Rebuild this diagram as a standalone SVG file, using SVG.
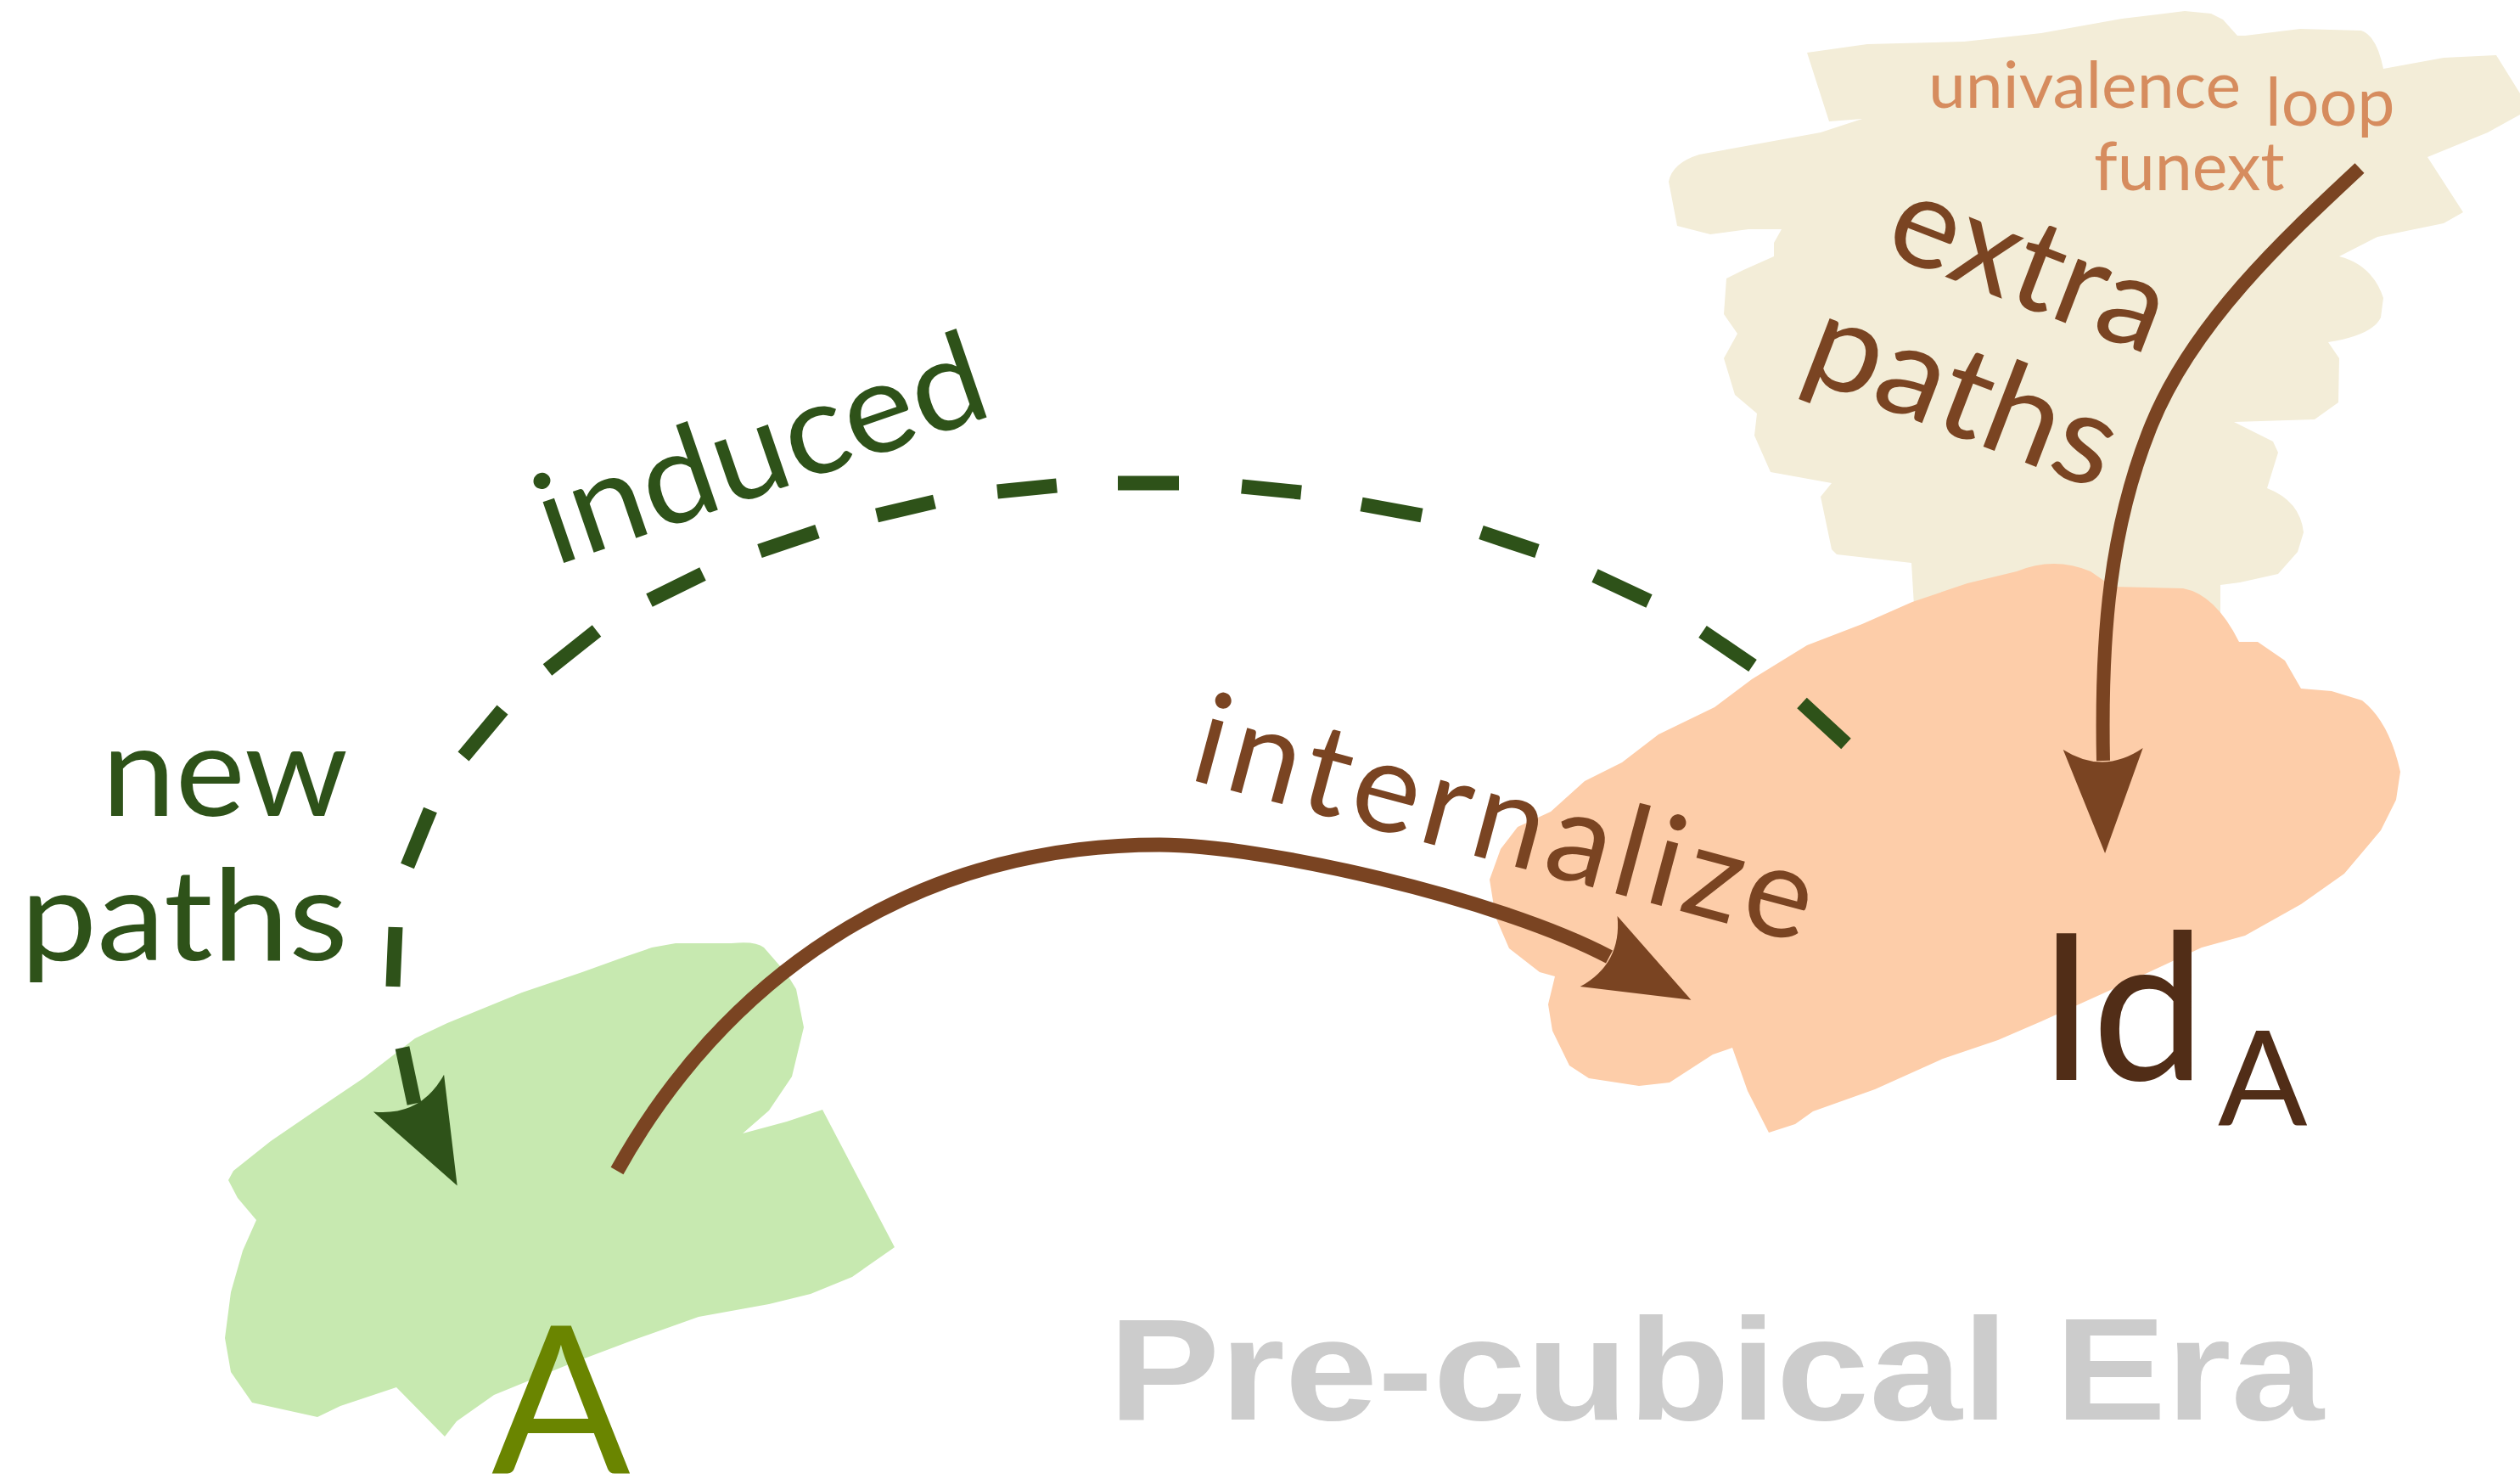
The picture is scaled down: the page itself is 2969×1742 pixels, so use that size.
<svg xmlns="http://www.w3.org/2000/svg" width="2969" height="1742" viewBox="0 0 2969 1742">
  <defs>
    <style>
      .lbl { font-family: Lato, "Noto Sans", "Liberation Sans", sans-serif; }
      .brown { fill: #7A4422; }
      .dkgreen { fill: #2E5219; }
      .tag { fill: #D68C5E; }
      .line-brown { fill: none; stroke: #7A4422; stroke-width: 17; stroke-linecap: butt; }
      .line-dash { fill: none; stroke: #2E5219; stroke-width: 17; stroke-linecap: butt; }
    </style>
    <!-- arrowhead: origin at the notch where the line ends, tip along +x -->
    <path id="head" d="M109 0 L-14 -47 Q17 0 -14 47 Z"/>
  </defs>

  <rect width="2969" height="1742" fill="#FFFFFF"/>

  <!-- extra paths (beige brush patch) -->
  <g id="node-extra-paths">
    <path fill="#F3EDD8" d="M2129,62 L2200,52 2314,49 2405,39 2500,22 2574,13 2605,16 2619,23 2636,42 2645,42 2710,34 2782,36 Q2800,42 2808,81 L2879,68 2941,65 2969,110 2969,135 2931,156 2860,185 2902,250 2879,263 2801,279 2756,302 Q2795,312 2808,351 L2805,374 Q2795,395 2743,403 L2756,422 2755,474 2727,494 2632,497 2678,520 2684,533 2671,575 Q2710,590 2714,627 L2707,650 2684,676 2639,686 2616,689 2616,740 2400,740 2256,730 2252,663 2164,653 2158,647 2145,585 2158,569 2086,556 2067,513 2070,487 2044,465 2031,422 2047,393 2031,370 2034,328 2054,318 2090,302 2090,286 2099,270 2060,270 2015,276 1976,266 1966,214 Q1970,192 2002,182 L2057,172 2145,156 2194,140 2155,143 Z"/>
    <text class="lbl tag" x="2272" y="127" font-size="75" textLength="368" lengthAdjust="spacingAndGlyphs">univalence</text>
    <text class="lbl tag" x="2669" y="148" font-size="79">loop</text>
    <text class="lbl tag" x="2467" y="224" font-size="79">funext</text>
    <text class="lbl brown" font-size="150" transform="translate(2216,297) rotate(21)" textLength="338" lengthAdjust="spacingAndGlyphs">extra</text>
    <text class="lbl brown" font-size="150" transform="translate(2118,442) rotate(21)" textLength="380" lengthAdjust="spacingAndGlyphs">paths</text>
  </g>

  <!-- Id_A (peach brush patch) -->
  <g id="node-IdA">
    <path fill="#FDCDA9" d="M2376,673 Q2420,655 2463,673 L2489,691 2572,693 Q2610,700 2638,756 L2660,756 2692,778 2711,811 2747,814 2783,825 Q2815,850 2828,909 L2823,942 2805,978 2762,1029 2711,1065 2645,1102 2594,1116 2500,1160 2405,1203 2354,1225 2289,1247 2209,1283 2136,1309 2115,1324 2084,1334 2059,1285 2041,1234 2018,1242 1967,1275 1931,1279 1872,1270 1849,1255 1829,1214 1824,1183 1832,1150 1814,1145 1778,1117 1762,1080 1755,1036 1768,1000 1788,974 1827,956 1867,920 1911,898 1954,865 2020,833 2064,800 2129,760 2194,735 2253,709 2318,687 Z"/>
    <text class="lbl" x="2401" y="1272" font-size="240" fill="#512D17">Id<tspan x="2613" y="1325" font-size="156">A</tspan></text>
  </g>

  <!-- A (green brush patch) -->
  <g id="node-A">
    <path fill="#C7E9B0" d="M768,1116 L796,1111 862,1111 Q890,1108 900,1116 L927,1147 938,1165 947,1210 933,1268 906,1308 875,1335 927,1321 969,1307 1054,1469 1004,1504 955,1524 906,1536 823,1551 747,1578 670,1607 582,1643 538,1674 524,1692 467,1634 401,1656 374,1669 297,1652 272,1616 265,1576 272,1522 286,1473 302,1437 280,1411 269,1390 275,1379 319,1344 379,1303 428,1270 489,1223 527,1205 615,1169 686,1145 736,1127 Z"/>
    <text class="lbl" x="661" y="1736" font-size="242" text-anchor="middle" fill="#6A8500">A</text>
  </g>

  <!-- connectors and their labels -->
  <g id="connectors">
    <!-- extra paths -> Id_A -->
    <g id="edge-extra">
      <path class="line-brown" style="stroke-width:16" d="M2780,198 C2692,280 2584,380 2535,500 C2486,620 2475,746 2478,896"/>
      <use href="#head" class="brown" transform="translate(2478,896) rotate(88.9)"/>
    </g>
    <!-- internalize: A -> Id_A -->
    <g id="edge-internalize">
      <path class="line-brown" d="M727,1379 C848.5,1160.5 1066,995 1366,995 C1486,995 1763,1057 1896,1127"/>
      <use href="#head" class="brown" transform="translate(1896,1127) rotate(27.8)"/>
      <text class="lbl brown" font-size="150" transform="translate(1398,917) rotate(15)" textLength="750" lengthAdjust="spacing">internalize</text>
    </g>
    <!-- induced new paths: Id_A -> A (dashed) -->
    <g id="edge-induced">
      <path class="line-dash" d="M2175,876 L2123,828 M2065,784 L2006,744 M1943,708 L1879,678 M1811,649 L1745,627 M1675,607 L1604,594 M1533,580 L1463,573 M1389,569 L1317,569 M1245,572 L1175,579 M1101,591 L1033,607 M963,626 L895,649 M828,676 L765,707 M703,743 L645,789 M592,836 L546,891 M507,954 L480,1020 M466,1092 L463,1162 M474,1234 L488,1300"/>
      <use href="#head" class="dkgreen" transform="translate(488,1300) rotate(62.3)"/>
      <text class="lbl dkgreen" font-size="150" transform="translate(653,667) rotate(-19)" textLength="550" lengthAdjust="spacingAndGlyphs">induced</text>
      <text class="lbl dkgreen" x="120" y="961" font-size="150" textLength="290" lengthAdjust="spacingAndGlyphs">new</text>
      <text class="lbl dkgreen" x="24" y="1131" font-size="150" textLength="386" lengthAdjust="spacingAndGlyphs">paths</text>
    </g>
  </g>

  <text x="1306" y="1672" font-family="'Liberation Sans', Arial, sans-serif" font-weight="bold" font-size="170" fill="#CCCCCC" textLength="1432" lengthAdjust="spacingAndGlyphs">Pre-cubical Era</text>
</svg>
